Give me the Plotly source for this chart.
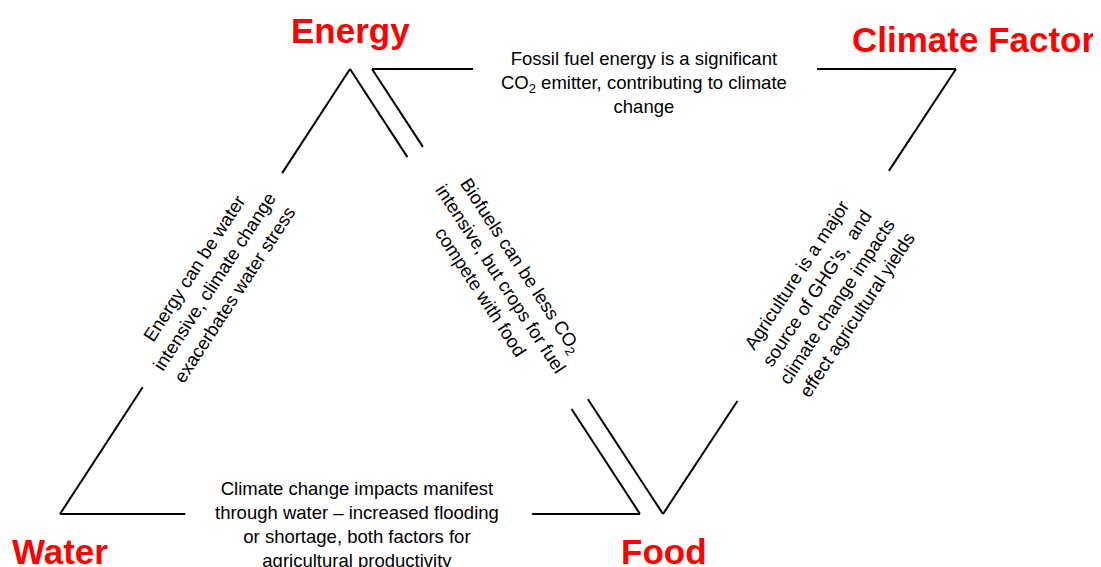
import plotly.graph_objects as go

# corners of the two triangles, in pixel units of the page
left_tri_x = [350, 60, 640]      # Energy, Water, Food
left_tri_y = [69, 514, 514]
right_tri_x = [372, 956, 663]    # Energy, Climate Factor, Food
right_tri_y = [69, 69, 514]

# each edge: (start corner, end corner, gap from t, gap to t)
left_edges = [(0, 1, 0.234, 0.715), (0, 2, 0.198, 0.764), (1, 2, 0.216, 0.814)]
right_edges = [(0, 1, 0.173, 0.762), (0, 2, 0.175, 0.742), (2, 1, 0.254, 0.771)]

node_names = ["Energy", "Water", "Food", "Climate Factor"]
node_x = [350, 60, 664, 974]
node_y = [30, 551, 551, 39]

link_texts = [
    "Fossil fuel energy is a significant<br>CO<sub>2</sub> emitter, contributing to climate<br>change",
    "Energy can be water<br>intensive, climate change<br>exacerbates water stress",
    "Biofuels can be less CO<sub>2</sub><br>intensive, but crops for fuel<br>compete with food",
    "Agriculture is a major<br>source of GHG's,  and<br>climate change impacts<br>effect agricultural yields",
    "Climate change impacts manifest<br>through water – increased flooding<br>or shortage, both factors for<br>agricultural productivity",
]
link_x = [644, 214, 501, 826, 357]
link_y = [82, 281, 278, 295, 524]
link_angle = [0, -56.9, 56.8, -56.6, 0]


def edge_path(xs, ys, edges):
    px, py = [], []
    for a, b, g0, g1 in edges:
        for t0, t1 in ((0, g0), (g1, 1)):
            px += [xs[a] + (xs[b] - xs[a]) * t0, xs[a] + (xs[b] - xs[a]) * t1, None]
            py += [ys[a] + (ys[b] - ys[a]) * t0, ys[a] + (ys[b] - ys[a]) * t1, None]
    return px, py


fig = go.Figure()
for xs, ys, edges in ((left_tri_x, left_tri_y, left_edges), (right_tri_x, right_tri_y, right_edges)):
    px, py = edge_path(xs, ys, edges)
    fig.add_trace(go.Scatter(x=px, y=py, mode="lines", line=dict(color="black", width=2),
                             hoverinfo="skip", showlegend=False))

for name, x, y in zip(node_names, node_x, node_y):
    fig.add_annotation(x=x, y=y, text=name, showarrow=False, xanchor="center", yanchor="middle",
                       font=dict(family="Liberation Sans, Arial, sans-serif", size=35,
                                 color="#ff0000", weight="bold"))

for txt, x, y, ang in zip(link_texts, link_x, link_y, link_angle):
    fig.add_annotation(x=x, y=y, text=txt, showarrow=False, textangle=ang,
                       xanchor="center", yanchor="middle", align="center",
                       font=dict(family="Liberation Sans, Arial, sans-serif", size=18.5, color="black"))

# the page body has an 8px margin, so the figure starts at (8, 8) on screen
fig.update_xaxes(range=[8, 1101], visible=False, fixedrange=True)
fig.update_yaxes(range=[567, 8], visible=False, fixedrange=True)
fig.update_layout(width=1093, height=559, margin=dict(l=0, r=0, t=0, b=0),
                  plot_bgcolor="white", paper_bgcolor="white")

fig.write_html("out.html")
